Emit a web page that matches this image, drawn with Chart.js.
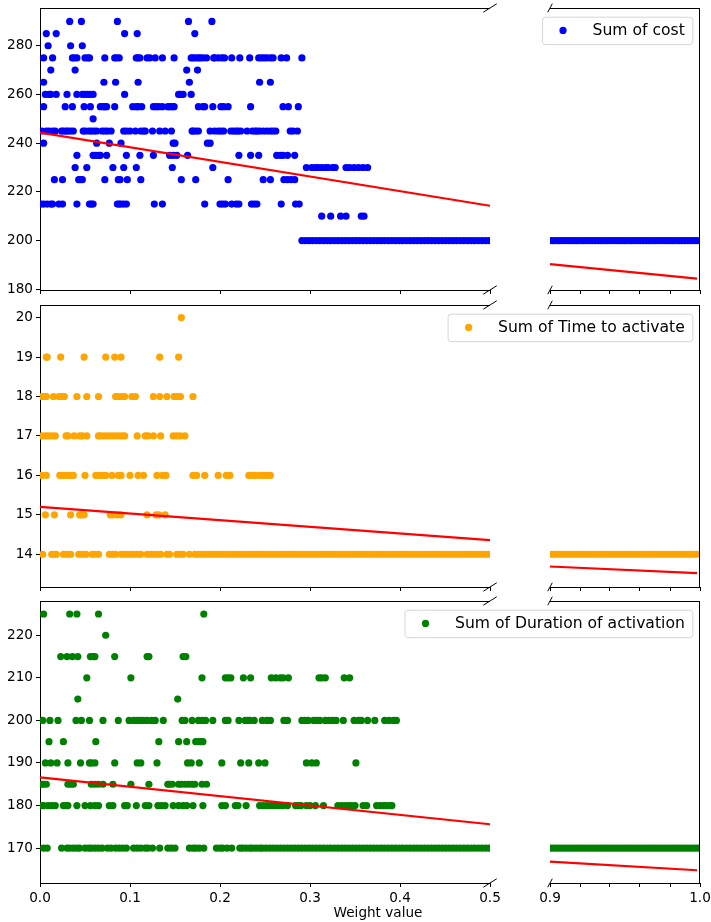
<!DOCTYPE html>
<html>
<head>
<meta charset="utf-8">
<script src="https://cdn.jsdelivr.net/npm/chart.js@4.4.0/dist/chart.umd.min.js"></script>
<style>
  html, body { margin: 0; padding: 0; background: #fff; }
  #fig { position: relative; width: 711px; height: 922px; overflow: hidden; background: #fff; }
  #fig canvas { position: absolute; }
</style>
</head>
<body>
<div id="fig"></div>
<script>
// Valores (eixo x = Weight value)
const costLevels = [290, 285, 280, 275, 270, 265, 260, 255, 250, 245, 240, 235, 230, 225, 215, 210, 200];
const timeLevels = [20, 19, 18, 17, 16, 15, 14];
const durLevels = [225, 220, 215, 210, 205, 200, 195, 190, 185, 180, 170];

const costTicks = [180, 200, 220, 240, 260, 280];
const timeTicks = [14, 15, 16, 17, 18, 19, 20];
const durTicks = [170, 180, 190, 200, 210, 220];
const leftTicks = [0, 0.1, 0.2, 0.3, 0.4, 0.5];
const rightTicks = [0.9, 0.92, 0.94, 0.96, 0.98, 1.0];
const rightTickLabels = ['0.9', '', '', '', '', '1.0'];

// linha de regressão (x: 0, 0.5 | 0.9, ~1.0)
const fitX = [0, 0.5, 0.9, 0.998];
const costFit = [244.3, 214.3, 190.3, 184.4];
const timeFit = [15.2, 14.36, 13.69, 13.52];
const durFit = [186.6, 175.6, 166.8, 164.8];

// trechos densos
const rightWeights = [0.9, 0.902, 0.904, 0.906, 0.908, 0.91, 0.912, 0.914, 0.916, 0.918, 0.92, 0.922, 0.924, 0.926, 0.928, 0.93, 0.932, 0.934, 0.936, 0.938, 0.94, 0.942, 0.944, 0.946, 0.948, 0.95, 0.952, 0.954, 0.956, 0.958, 0.96, 0.962, 0.964, 0.966, 0.968, 0.97, 0.972, 0.974, 0.976, 0.978, 0.98, 0.982, 0.984, 0.986, 0.988, 0.99, 0.992, 0.994, 0.996, 0.998];
const cost200Left = [0.291, 0.295, 0.299, 0.303, 0.307, 0.311, 0.315, 0.319, 0.323, 0.327, 0.331, 0.335, 0.339, 0.343, 0.347, 0.351, 0.355, 0.359, 0.363, 0.367, 0.371, 0.375, 0.379, 0.383, 0.387, 0.391, 0.395, 0.399, 0.403, 0.407, 0.411, 0.415, 0.419, 0.423, 0.427, 0.431, 0.435, 0.439, 0.443, 0.447, 0.451, 0.455, 0.459, 0.463, 0.467, 0.471, 0.475, 0.479, 0.483, 0.487, 0.491, 0.495, 0.499];
const time14Left = [0.172, 0.176, 0.18, 0.184, 0.188, 0.192, 0.196, 0.2, 0.204, 0.208, 0.212, 0.216, 0.22, 0.224, 0.228, 0.232, 0.236, 0.24, 0.244, 0.248, 0.252, 0.256, 0.26, 0.264, 0.268, 0.272, 0.276, 0.28, 0.284, 0.288, 0.292, 0.296, 0.3, 0.304, 0.308, 0.312, 0.316, 0.32, 0.324, 0.328, 0.332, 0.336, 0.34, 0.344, 0.348, 0.352, 0.356, 0.36, 0.364, 0.368, 0.372, 0.376, 0.38, 0.384, 0.388, 0.392, 0.396, 0.4, 0.404, 0.408, 0.412, 0.416, 0.42, 0.424, 0.428, 0.432, 0.436, 0.44, 0.444, 0.448, 0.452, 0.456, 0.46, 0.464, 0.468, 0.472, 0.476, 0.48, 0.484, 0.488, 0.492, 0.496, 0.499];
const dur170Left = [0.251, 0.255, 0.259, 0.263, 0.267, 0.271, 0.275, 0.279, 0.283, 0.287, 0.291, 0.295, 0.299, 0.303, 0.307, 0.311, 0.315, 0.319, 0.323, 0.327, 0.331, 0.335, 0.339, 0.343, 0.347, 0.351, 0.355, 0.359, 0.363, 0.367, 0.371, 0.375, 0.379, 0.383, 0.387, 0.391, 0.395, 0.399, 0.403, 0.407, 0.411, 0.415, 0.419, 0.423, 0.427, 0.431, 0.435, 0.439, 0.443, 0.447, 0.451, 0.455, 0.459, 0.463, 0.467, 0.471, 0.475, 0.479, 0.483, 0.487, 0.491, 0.495, 0.499];

const costWeights = [
  [0.033, 0.046, 0.086, 0.165, 0.191],
  [0.007, 0.018, 0.094, 0.108, 0.172],
  [0.009, 0.034, 0.047],
  [0.004, 0.014, 0.036, 0.038, 0.041, 0.05, 0.053, 0.055, 0.072, 0.083, 0.085, 0.088, 0.107, 0.109, 0.111, 0.119, 0.122, 0.128, 0.136, 0.149, 0.168, 0.17, 0.173, 0.176, 0.178, 0.181, 0.185, 0.193, 0.194, 0.198, 0.202, 0.205, 0.213, 0.222, 0.233, 0.243, 0.246, 0.249, 0.252, 0.256, 0.259, 0.268, 0.274, 0.291],
  [0.012, 0.039, 0.163, 0.175],
  [0.004, 0.071, 0.084, 0.109, 0.166, 0.244, 0.256],
  [0.006, 0.01, 0.012, 0.018, 0.03, 0.041, 0.047, 0.05, 0.053, 0.056, 0.059, 0.094, 0.154, 0.156, 0.159, 0.168],
  [0.004, 0.028, 0.036, 0.049, 0.056, 0.067, 0.07, 0.072, 0.074, 0.083, 0.103, 0.107, 0.109, 0.113, 0.126, 0.129, 0.132, 0.136, 0.142, 0.144, 0.147, 0.149, 0.176, 0.181, 0.183, 0.192, 0.201, 0.204, 0.209, 0.234, 0.27, 0.276, 0.287],
  [0.059],
  [0.002, 0.007, 0.01, 0.014, 0.017, 0.024, 0.026, 0.029, 0.031, 0.034, 0.037, 0.048, 0.05, 0.054, 0.057, 0.06, 0.063, 0.069, 0.072, 0.075, 0.079, 0.093, 0.096, 0.1, 0.106, 0.112, 0.115, 0.117, 0.125, 0.133, 0.139, 0.146, 0.169, 0.17, 0.173, 0.176, 0.189, 0.194, 0.198, 0.201, 0.204, 0.212, 0.215, 0.218, 0.22, 0.223, 0.23, 0.236, 0.239, 0.241, 0.244, 0.248, 0.252, 0.256, 0.259, 0.262, 0.278, 0.281, 0.286],
  [0.004, 0.063, 0.077, 0.09, 0.148, 0.15, 0.186, 0.189],
  [0.041, 0.059, 0.062, 0.065, 0.067, 0.074, 0.096, 0.111, 0.126, 0.144, 0.148, 0.152, 0.164, 0.221, 0.234, 0.243, 0.263, 0.267, 0.27, 0.275, 0.283],
  [0.039, 0.052, 0.081, 0.093, 0.107, 0.147, 0.192, 0.296, 0.302, 0.306, 0.309, 0.313, 0.317, 0.32, 0.325, 0.328, 0.34, 0.344, 0.349, 0.354, 0.359, 0.364],
  [0.016, 0.025, 0.043, 0.045, 0.047, 0.072, 0.087, 0.089, 0.097, 0.112, 0.157, 0.173, 0.209, 0.248, 0.256, 0.271, 0.275, 0.279, 0.283],
  [0.001, 0.004, 0.008, 0.012, 0.014, 0.021, 0.025, 0.041, 0.055, 0.057, 0.059, 0.086, 0.088, 0.09, 0.093, 0.096, 0.127, 0.136, 0.183, 0.2, 0.203, 0.206, 0.213, 0.218, 0.221, 0.235, 0.238, 0.241, 0.268, 0.284, 0.288],
  [0.313, 0.323, 0.334, 0.34, 0.357, 0.36],
  cost200Left.concat(rightWeights)
];

const timeWeights = [
  [0.157],
  [0.007, 0.008, 0.023, 0.049, 0.073, 0.083, 0.09, 0.133, 0.154],
  [0.002, 0.004, 0.007, 0.015, 0.021, 0.024, 0.027, 0.041, 0.052, 0.065, 0.084, 0.087, 0.091, 0.094, 0.102, 0.106, 0.126, 0.133, 0.141, 0.149, 0.152, 0.156, 0.17],
  [0.002, 0.006, 0.009, 0.013, 0.017, 0.029, 0.031, 0.038, 0.044, 0.047, 0.052, 0.065, 0.067, 0.071, 0.075, 0.079, 0.083, 0.087, 0.091, 0.094, 0.108, 0.117, 0.12, 0.126, 0.134, 0.148, 0.152, 0.156, 0.161],
  [0.002, 0.007, 0.022, 0.026, 0.03, 0.033, 0.037, 0.05, 0.062, 0.066, 0.07, 0.073, 0.08, 0.087, 0.09, 0.1, 0.109, 0.115, 0.13, 0.136, 0.14, 0.17, 0.174, 0.183, 0.198, 0.207, 0.211, 0.232, 0.235, 0.239, 0.244, 0.248, 0.252, 0.256],
  [0.006, 0.016, 0.034, 0.044, 0.046, 0.049, 0.078, 0.081, 0.086, 0.09, 0.119, 0.129, 0.132, 0.139],
  [0.003, 0.013, 0.016, 0.018, 0.026, 0.03, 0.034, 0.043, 0.047, 0.051, 0.058, 0.061, 0.065, 0.077, 0.081, 0.084, 0.09, 0.093, 0.097, 0.101, 0.104, 0.108, 0.112, 0.119, 0.123, 0.127, 0.13, 0.134, 0.141, 0.144, 0.152, 0.156, 0.159, 0.166].concat(time14Left, rightWeights)
];

const durWeights = [
  [0.004, 0.033, 0.041, 0.065, 0.182],
  [0.073],
  [0.023, 0.03, 0.036, 0.042, 0.056, 0.059, 0.061, 0.083, 0.119, 0.121, 0.159, 0.162],
  [0.052, 0.101, 0.18, 0.206, 0.209, 0.212, 0.226, 0.234, 0.257, 0.262, 0.267, 0.27, 0.276, 0.31, 0.313, 0.317, 0.338, 0.344],
  [0.042, 0.153],
  [0.003, 0.011, 0.02, 0.04, 0.046, 0.055, 0.07, 0.087, 0.099, 0.104, 0.108, 0.111, 0.115, 0.119, 0.124, 0.128, 0.137, 0.158, 0.161, 0.169, 0.176, 0.18, 0.184, 0.192, 0.206, 0.209, 0.221, 0.228, 0.231, 0.233, 0.238, 0.247, 0.252, 0.256, 0.271, 0.275, 0.291, 0.294, 0.298, 0.304, 0.307, 0.311, 0.317, 0.321, 0.325, 0.329, 0.337, 0.349, 0.354, 0.357, 0.364, 0.372, 0.383, 0.388, 0.393, 0.396],
  [0.01, 0.026, 0.062, 0.132, 0.154, 0.163, 0.173, 0.176, 0.179, 0.181],
  [0.006, 0.012, 0.019, 0.031, 0.045, 0.055, 0.057, 0.061, 0.083, 0.108, 0.112, 0.13, 0.164, 0.168, 0.177, 0.202, 0.223, 0.232, 0.243, 0.25, 0.296, 0.302, 0.307, 0.351],
  [0.002, 0.004, 0.007, 0.031, 0.034, 0.037, 0.057, 0.061, 0.065, 0.07, 0.081, 0.101, 0.121, 0.142, 0.144, 0.147, 0.154, 0.157, 0.161, 0.165, 0.169, 0.172, 0.18, 0.185],
  [0.002, 0.004, 0.009, 0.013, 0.017, 0.026, 0.029, 0.031, 0.041, 0.05, 0.056, 0.061, 0.065, 0.077, 0.081, 0.094, 0.097, 0.107, 0.117, 0.121, 0.131, 0.135, 0.139, 0.148, 0.154, 0.159, 0.163, 0.17, 0.181, 0.202, 0.206, 0.217, 0.22, 0.229, 0.244, 0.248, 0.252, 0.256, 0.259, 0.263, 0.266, 0.27, 0.275, 0.284, 0.287, 0.29, 0.296, 0.3, 0.306, 0.315, 0.331, 0.335, 0.339, 0.343, 0.346, 0.35, 0.359, 0.363, 0.374, 0.378, 0.382, 0.385, 0.389, 0.391],
  [0.004, 0.008, 0.024, 0.03, 0.033, 0.037, 0.041, 0.044, 0.05, 0.054, 0.057, 0.061, 0.065, 0.069, 0.075, 0.079, 0.084, 0.088, 0.092, 0.096, 0.104, 0.108, 0.112, 0.117, 0.12, 0.125, 0.133, 0.142, 0.146, 0.15, 0.166, 0.17, 0.173, 0.177, 0.182, 0.196, 0.2, 0.203, 0.208, 0.213, 0.222, 0.225, 0.229, 0.233, 0.236, 0.24, 0.244, 0.247].concat(dur170Left, rightWeights, [1.0])
];

const FONT = 'DejaVu Sans';
const fig = document.getElementById('fig');

function toPoints(levels, weights) {
  const pts = [];
  levels.forEach((y, i) => weights[i].forEach(x => pts.push({ x, y })));
  return pts;
}

function makeCanvas(top, w, h, z) {
  const c = document.createElement('canvas');
  c.width = w; c.height = h;
  c.style.left = '0px'; c.style.top = top + 'px';
  c.style.width = w + 'px'; c.style.height = h + 'px';
  c.style.zIndex = z;
  fig.appendChild(c);
  return c;
}

// moldura (spines) + marcas de quebra
const framePlugin = {
  id: 'frame',
  afterDraw(chart, args, opts) {
    const { ctx, chartArea: a } = chart;
    const top = Math.round(a.top) + 0.5;
    const dx = 0.015 * (a.right - a.left), dy = 0.015 * (a.bottom - a.top);
    ctx.save();
    ctx.strokeStyle = '#000';
    ctx.lineWidth = 1;
    ctx.beginPath();
    ctx.moveTo(a.left, top); ctx.lineTo(a.right, top);
    if (opts.side === 'right') {
      const r = Math.round(a.right) - 0.5;
      ctx.moveTo(r, a.top); ctx.lineTo(r, a.bottom);
    }
    ctx.stroke();
    const bx = opts.side === 'left' ? a.right : a.left;
    ctx.beginPath();
    [a.top, a.bottom].forEach(y => { ctx.moveTo(bx - dx, y + dy); ctx.lineTo(bx + dx, y - dy); });
    ctx.stroke();
    ctx.restore();
  }
};

const legendPlugin = {
  id: 'fakeLegend',
  afterDraw(chart, args, opts) {
    if (!opts.label) return;
    const { ctx, chartArea: a } = chart;
    ctx.save();
    ctx.font = '15.6px "' + FONT + '"';
    const tw = ctx.measureText(opts.label).width;
    const boxR = a.right - 7.7, boxT = a.top + 8.7, boxH = 27.4;
    const boxW = 50.5 + tw + 7.5;
    const boxL = boxR - boxW;
    ctx.beginPath();
    if (ctx.roundRect) ctx.roundRect(boxL + 0.5, boxT + 0.5, boxW, boxH, 3);
    else ctx.rect(boxL + 0.5, boxT + 0.5, boxW, boxH);
    ctx.fillStyle = 'rgba(255,255,255,0.8)';
    ctx.fill();
    ctx.strokeStyle = '#d6d6d6';
    ctx.lineWidth = 1;
    ctx.stroke();
    const cy = boxT + boxH / 2;
    ctx.beginPath();
    ctx.arc(boxL + 21, cy, 3.6, 0, Math.PI * 2);
    ctx.fillStyle = opts.color;
    ctx.fill();
    ctx.fillStyle = '#000';
    ctx.textBaseline = 'middle';
    ctx.textAlign = 'left';
    ctx.fillText(opts.label, boxL + 50.5, cy + 0.5);
    if (opts.title) {
      ctx.font = '13.6px "' + FONT + '"';
      ctx.textAlign = 'center';
      ctx.fillText(opts.title, 378, 913 - opts.canvasTop);
    }
    ctx.restore();
  }
};

const panels = [
  { top: 0, height: 300, padBottom: 0, xHeight: 10, showX: false, points: toPoints(costLevels, costWeights),
    color: '#0000ff', label: 'Sum of cost', yMin: 179.7, yMax: 295.5, yTicks: costTicks, fit: costFit },
  { top: 297, height: 300, padBottom: 0, xHeight: 10, showX: false, points: toPoints(timeLevels, timeWeights),
    color: '#ffa500', label: 'Sum of Time to activate', yMin: 13.17, yMax: 20.32, yTicks: timeTicks, fit: timeFit },
  { top: 593, height: 329, padBottom: 9, xHeight: 30, showX: true, points: toPoints(durLevels, durWeights),
    color: '#008000', label: 'Sum of Duration of activation', yMin: 161.8, yMax: 228.05, yTicks: durTicks, fit: durFit,
    title: 'Weight value' }
];

function buildChart(p, side) {
  const left = side === 'left';
  const canvas = makeCanvas(p.top, left ? 510 : 711, p.height, left ? 1 : 2);
  const seg = left ? [0, 1] : [2, 3];
  const tickFont = { family: FONT, size: 13.6 };
  return new Chart(canvas, {
    type: 'scatter',
    data: {
      datasets: [
        { type: 'line', showLine: true, data: seg.map(i => ({ x: fitX[i], y: p.fit[i] })),
          borderColor: '#ff0000', borderWidth: 2.2, pointRadius: 0, fill: false, order: 0 },
        { data: p.points, backgroundColor: p.color, borderWidth: 0, pointRadius: 3.6, pointHoverRadius: 3.6, order: 1 }
      ]
    },
    options: {
      responsive: false,
      animation: false,
      events: [],
      layout: { padding: left ? { left: 0, right: 20, top: 8, bottom: p.padBottom }
                              : { left: 550, right: 11, top: 8, bottom: p.padBottom } },
      plugins: {
        legend: { display: false },
        tooltip: { enabled: false },
        frame: { side },
        fakeLegend: left ? {} : { label: p.label, color: p.color, title: p.title, canvasTop: p.top }
      },
      scales: {
        x: {
          type: 'linear',
          min: left ? 0 : 0.9,
          max: left ? 0.5 : 1.0,
          afterBuildTicks: s => { s.ticks = (left ? leftTicks : rightTicks).map(v => ({ value: v })); },
          afterFit: s => { s.height = p.xHeight; s.paddingLeft = 0; s.paddingRight = 0; },
          grid: { drawOnChartArea: false, drawTicks: true, tickLength: 4, color: '#000', lineWidth: 1 },
          border: { display: true, color: '#000', width: 1 },
          ticks: {
            display: p.showX, font: tickFont, color: '#000', padding: 3, maxRotation: 0, autoSkip: false,
            callback: (v, i) => left ? leftTicks[i].toFixed(1) : rightTickLabels[i]
          }
        },
        y: {
          type: 'linear',
          display: left,
          min: p.yMin,
          max: p.yMax,
          afterBuildTicks: s => { s.ticks = p.yTicks.map(v => ({ value: v })); },
          afterFit: s => { if (left) { s.width = 40; s.paddingTop = 0; s.paddingBottom = 0; } },
          grid: { drawOnChartArea: false, drawTicks: true, tickLength: 4, color: '#000', lineWidth: 1 },
          border: { display: true, color: '#000', width: 1 },
          ticks: { font: tickFont, color: '#000', padding: 3, callback: (v, i) => String(p.yTicks[i]) }
        }
      }
    },
    plugins: [framePlugin, legendPlugin]
  });
}

panels.forEach(p => { buildChart(p, 'left'); buildChart(p, 'right'); });
</script>
</body>
</html>
